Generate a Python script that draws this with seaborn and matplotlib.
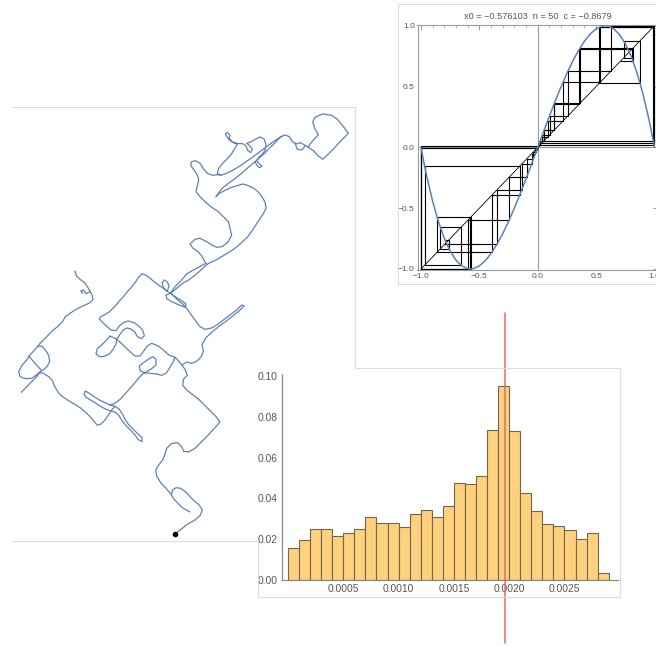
import numpy as np
import pandas as pd
import matplotlib
matplotlib.use("Agg")
import matplotlib.pyplot as plt
from matplotlib.lines import Line2D
from matplotlib.ticker import MultipleLocator, FuncFormatter
import seaborn as sns

sns.set_style("white")
plt.rcParams["font.family"] = ["Liberation Sans", "DejaVu Sans"]

W, H = 656, 646

# ---------------- histogram data ----------------
bin_width = 0.0001
hist_heights = [0.0158, 0.0196, 0.0252, 0.0252, 0.0217, 0.0229, 0.0252, 0.0310,
                0.0281, 0.0281, 0.0261, 0.0325, 0.0345, 0.0310, 0.0364, 0.0477,
                0.0469, 0.0508, 0.0737, 0.0949, 0.0732, 0.0428, 0.0340, 0.0273,
                0.0263, 0.0247, 0.0203, 0.0232, 0.0034]
marker_x = 0.00196
hist_xticks = [0.0005, 0.0010, 0.0015, 0.0020, 0.0025]
hist_yticks = [0.00, 0.02, 0.04, 0.06, 0.08, 0.10]

# ---------------- cobweb data ----------------
cobweb_title = "x0 = \u22120.576103  n = 50  c = \u22120.8679"
x0 = -0.576103
orbit = [x0, -1.0000, -0.0030, -0.0078, -0.0203, -0.0527, -0.1366, -0.3483,
         -0.7951, -0.7598, -0.8344, -0.6586, -0.9688, -0.1546, -0.3921, -0.8621,
         -0.5752, -1.0000, -0.0021, -0.0055, -0.0142, -0.0368, -0.0956, -0.2461,
         -0.6006, -0.9976, 0.0124, 0.0323, 0.0839, 0.2164, 0.5359, 0.9924,
         0.0390, 0.1012, 0.2602, 0.6302, 0.9960, 0.0207, 0.0537, 0.1391,
         0.3544, 0.8051, 0.7359, 0.8764, 0.5280, 0.9893, 0.0547, 0.1417,
         0.3607, 0.8152, 0.7103]
curve_x = [-1.0, -0.975, -0.95, -0.9, -0.85, -0.8, -0.75, -0.7, -0.65, -0.6, -0.575,
           -0.55, -0.5, -0.45, -0.4, -0.35, -0.3, -0.25, -0.2, -0.15, -0.1, -0.05,
           0.0, 0.05, 0.1, 0.15, 0.2, 0.25, 0.3, 0.35, 0.4, 0.45, 0.5, 0.55,
           0.575, 0.6, 0.65, 0.7, 0.75, 0.8, 0.85, 0.9, 0.95, 0.975, 1.0]
curve_y = [0.0, -0.1251, -0.2406, -0.4443, -0.6128, -0.7482, -0.8525, -0.9275,
           -0.9752, -0.9976, -1.0, -0.9967, -0.9743, -0.9324, -0.8729, -0.7979,
           -0.7093, -0.6089, -0.4988, -0.3809, -0.2572, -0.1296,
           0.0, 0.1296, 0.2572, 0.3809, 0.4988, 0.6089, 0.7093, 0.7979, 0.8729,
           0.9324, 0.9743, 0.9967, 1.0, 0.9976, 0.9752, 0.9275, 0.8525, 0.7482,
           0.6128, 0.4443, 0.2406, 0.1251, 0.0]
cobweb_ticks = [-1.0, -0.5, 0.0, 0.5, 1.0]

# ---------------- random walk data (strokes of one path) ----------------
walk_strokes = [
    [(525, 1302), (542, 1289), (560, 1274), (585, 1260), (600, 1247), (607, 1230), (598, 1216),
     (583, 1203), (570, 1190), (556, 1175), (542, 1165), (528, 1163), (518, 1170), (514, 1184),
     (522, 1198), (536, 1212), (548, 1224), (570, 1236)],
    [(514, 1184), (498, 1165), (482, 1148), (470, 1128), (467, 1110), (476, 1095), (488, 1080),
     (495, 1062), (500, 1045), (514, 1031), (532, 1028), (545, 1040), (551, 1054), (566, 1056),
     (586, 1044), (605, 1025), (624, 1006), (642, 986), (660, 966), (648, 950), (630, 932),
     (612, 914), (596, 898), (578, 884), (560, 870), (548, 856), (550, 838), (562, 826),
     (556, 810), (546, 795), (535, 782), (525, 772)],
    [(525, 772), (508, 766), (492, 752), (475, 738), (455, 730), (442, 738), (432, 752),
     (420, 768), (405, 768), (392, 757), (380, 746), (365, 731), (350, 718)],
    [(350, 718), (348, 732), (340, 747), (328, 762), (313, 769), (299, 770), (288, 762),
     (292, 746), (305, 735), (318, 722), (330, 708), (350, 718)],
    [(350, 718), (360, 703), (370, 690), (380, 684), (393, 687), (405, 697), (412, 710),
     (425, 716), (433, 707), (428, 690), (416, 678), (402, 668), (385, 663), (370, 668),
     (358, 678), (348, 692), (333, 690), (318, 677), (305, 665), (298, 657)],
    [(298, 657), (302, 650), (313, 645), (326, 637), (338, 626), (350, 613), (360, 601),
     (372, 588), (382, 575), (394, 562), (405, 548), (415, 533), (426, 521), (440, 527),
     (455, 539), (470, 551), (487, 563), (500, 573), (512, 580)],
    [(500, 573), (490, 562), (486, 548), (493, 540), (502, 546), (507, 558), (503, 570),
     (500, 573)],
    [(512, 580), (498, 585), (500, 596), (515, 605), (535, 614), (556, 622), (558, 612),
     (545, 602), (528, 592), (512, 580)],
    [(512, 580), (530, 597), (548, 612), (560, 625), (572, 642), (585, 660), (600, 680),
     (615, 688), (635, 684), (652, 674), (670, 660), (690, 645), (710, 630), (725, 615),
     (732, 618), (716, 634), (696, 650), (676, 665), (656, 680), (636, 696), (617, 714),
     (606, 734), (610, 754), (604, 770), (590, 784), (575, 790), (560, 786), (546, 795)],
    [(512, 580), (530, 565), (548, 550), (566, 540), (586, 525), (605, 508), (620, 494)],
    [(512, 578), (525, 560), (542, 543), (560, 522), (580, 510), (600, 500), (617, 490)],
    [(620, 494), (612, 480), (604, 466), (594, 455), (578, 444), (570, 432), (585, 418),
     (600, 415), (620, 425), (635, 435), (650, 442), (666, 440), (685, 425), (695, 405),
     (690, 385), (685, 365), (670, 350), (655, 335), (635, 322), (615, 305), (600, 290),
     (588, 275), (592, 258), (596, 240)],
    [(596, 240), (592, 225), (582, 210), (572, 196), (574, 186), (586, 182), (600, 190),
     (610, 206), (622, 220), (638, 226), (652, 224), (662, 226)],
    [(662, 226), (652, 220), (656, 205), (668, 190), (682, 176), (695, 161), (704, 146),
     (712, 132), (698, 126), (687, 116), (690, 106), (682, 97), (676, 102), (686, 118),
     (700, 128), (715, 131), (728, 131), (738, 138), (743, 151), (752, 158), (757, 147),
     (748, 136), (740, 130), (752, 126), (766, 118), (780, 111), (792, 117), (798, 134),
     (795, 152), (786, 163), (775, 173), (770, 183), (778, 192), (786, 199), (778, 203),
     (770, 195), (765, 186)],
    [(662, 226), (680, 220), (700, 210), (720, 198), (740, 184), (760, 170), (780, 155),
     (800, 140), (820, 125), (840, 112)],
    [(648, 290), (665, 266), (685, 250), (705, 236), (725, 220), (745, 202), (765, 185),
     (785, 168), (805, 148), (825, 128), (845, 108)],
    [(648, 290), (655, 282), (675, 271), (695, 262), (715, 256), (728, 252), (742, 256),
     (757, 263), (772, 273), (785, 289), (795, 306), (798, 325), (790, 341), (780, 356),
     (770, 371), (758, 390), (745, 408), (728, 425), (710, 441), (690, 455), (670, 467),
     (648, 480), (630, 488), (620, 494)],
    [(840, 112), (855, 105), (868, 110), (878, 126), (890, 132), (900, 128), (912, 134),
     (925, 142), (940, 152), (955, 168), (968, 178), (985, 162), (1002, 145), (1020, 125),
     (1045, 100), (1030, 80), (1012, 58), (995, 46), (968, 42), (945, 52), (938, 66),
     (945, 88), (955, 104), (942, 118), (930, 132), (925, 142)],
    [(885, 130), (892, 148), (906, 150), (915, 138)],
    [(525, 772), (518, 788), (508, 805), (498, 820), (485, 826), (470, 822), (452, 820),
     (432, 818), (420, 812), (418, 798), (430, 788), (445, 778), (458, 770), (468, 778),
     (468, 795), (455, 806), (440, 815), (428, 822), (418, 832), (405, 848), (390, 865),
     (375, 882), (360, 898), (345, 910), (330, 915)],
    [(330, 915), (315, 908), (298, 900), (282, 890), (268, 880), (256, 873), (252, 882),
     (258, 892), (272, 900), (288, 910), (303, 920), (318, 928), (333, 933), (347, 937),
     (357, 947), (366, 962), (378, 977), (392, 991), (405, 1005), (415, 1019), (426, 1025),
     (426, 1013), (414, 1002), (400, 988), (386, 974), (375, 958), (368, 943), (358, 928),
     (345, 919), (330, 915)],
    [(345, 919), (335, 930), (325, 945), (315, 960), (303, 972), (292, 976), (283, 965),
     (272, 952), (258, 938), (243, 925), (228, 915), (210, 905), (195, 895), (180, 884),
     (170, 870), (162, 855), (156, 840), (146, 830), (130, 820)],
    [(130, 820), (118, 818), (108, 826), (95, 835), (76, 836), (60, 830), (56, 815),
     (66, 796), (80, 780), (90, 765), (104, 750), (112, 740), (125, 738), (136, 750),
     (146, 766), (149, 785), (141, 800), (130, 810), (120, 815), (110, 830), (95, 845),
     (80, 860), (64, 877)],
    [(86, 768), (100, 784), (114, 800), (125, 812)],
    [(112, 740), (122, 728), (132, 718), (146, 704), (160, 690), (175, 678), (188, 664),
     (196, 650), (210, 640), (225, 630), (240, 622), (256, 615), (270, 608), (279, 598),
     (276, 585), (270, 573), (262, 560), (254, 548), (240, 538), (229, 527), (225, 513)],
    [(270, 575), (258, 581), (250, 570), (242, 573), (248, 580)],
]

BLUE = "#5E81B5"
GRAY_TXT = "#555555"
FRAME = "#dcdcdc"


def fig_rect(left, top, right, bottom):
    return [left / W, 1 - bottom / H, (right - left) / W, (bottom - top) / H]


fig = plt.figure(figsize=(W / 100, H / 100), dpi=100)
fig.patch.set_facecolor("white")

# ---------------- random walk panel ----------------
ax_w = fig.add_axes(fig_rect(12, 107.3, 355.7, 541))
rows = []
for sid, stroke in enumerate(walk_strokes):
    for order, (px, py) in enumerate(stroke):
        rows.append((sid, order, px, py))
walk_df = pd.DataFrame(rows, columns=["stroke", "order", "x", "y"])
sns.lineplot(data=walk_df, x="x", y="y", units="stroke", estimator=None, sort=False,
             color=BLUE, linewidth=0.9, ax=ax_w, legend=False)
start_x, start_y = walk_strokes[0][0]
ax_w.scatter([start_x], [start_y], s=9, color="black", zorder=5)
ax_w.set_xlim(36, 1067)
ax_w.set_ylim(1323, 22)
ax_w.axis("off")

# ---------------- histogram panel ----------------
ax_h = fig.add_axes(fig_rect(282, 374, 618, 580))
edges = [round(i * bin_width, 6) for i in range(len(hist_heights) + 1)]
hist_df = pd.DataFrame({"center": [e + bin_width / 2 for e in edges[:-1]],
                        "height": hist_heights})
sns.histplot(data=hist_df, x="center", weights="height", bins=edges, ax=ax_h,
             color="#FDD17E", edgecolor="#75654C", linewidth=0.8, alpha=1.0)
ax_h.set_xlim(-0.0000543, 0.002984)
ax_h.set_ylim(0, 0.101)
for s in ["top", "right"]:
    ax_h.spines[s].set_visible(False)
for s in ["left", "bottom"]:
    ax_h.spines[s].set_color("#8c8c8c")
    ax_h.spines[s].set_linewidth(0.9)
ax_h.set_xticks(hist_xticks)
ax_h.set_yticks(hist_yticks)
ax_h.xaxis.set_minor_locator(MultipleLocator(0.0001))
ax_h.yaxis.set_minor_locator(MultipleLocator(0.004))
ax_h.xaxis.set_major_formatter(FuncFormatter(lambda v, p: f"{v:.4f}"))
ax_h.yaxis.set_major_formatter(FuncFormatter(lambda v, p: f"{v:.2f}"))
ax_h.tick_params(axis="both", which="major", direction="in", length=4, width=0.8,
                 color="#8c8c8c", labelsize=7.4, labelcolor=GRAY_TXT, pad=3)
ax_h.tick_params(axis="both", which="minor", direction="in", length=2, width=0.6,
                 color="#8c8c8c")
ax_h.set_xlabel("")
ax_h.set_ylabel("")
ax_h.set_facecolor("none")
ax_h.plot([marker_x, marker_x], [0.1309, -0.0309], color="#E06A6A", linewidth=1.1,
          clip_on=False, zorder=6)

# ---------------- cobweb panel ----------------
ax_c = fig.add_axes(fig_rect(417.5, 24.5, 658.0, 270.2))
ax_c.set_xlim(-1.03, 1.03)
ax_c.set_ylim(-1.01, 1.01)
ax_c.axvline(0, color="#9a9a9a", linewidth=0.8, zorder=1)
ax_c.axhline(0, color="#9a9a9a", linewidth=0.8, zorder=1)
ax_c.plot([-1, 1], [-1, 1], color="black", linewidth=0.6, zorder=2)
web_x, web_y = [orbit[0]], [orbit[0]]
for a, b in zip(orbit[:-1], orbit[1:]):
    web_x += [a, b]
    web_y += [b, b]
ax_c.plot(web_x, web_y, color="black", linewidth=0.8, zorder=3)
sns.lineplot(x=curve_x, y=curve_y, sort=False, estimator=None, color=BLUE,
             linewidth=1.1, ax=ax_c, zorder=4)
for s in ax_c.spines.values():
    s.set_color("#9a9a9a")
    s.set_linewidth(0.8)
ax_c.set_xticks(cobweb_ticks)
ax_c.set_yticks(cobweb_ticks)
ax_c.xaxis.set_minor_locator(MultipleLocator(0.1))
ax_c.yaxis.set_minor_locator(MultipleLocator(0.1))
fmt = FuncFormatter(lambda v, p: f"{v:.1f}".replace("-", "\u2212"))
ax_c.xaxis.set_major_formatter(fmt)
ax_c.yaxis.set_major_formatter(fmt)
ax_c.tick_params(axis="both", which="major", direction="in", length=3.5, width=0.7,
                 color="#9a9a9a", labelsize=6.0, labelcolor=GRAY_TXT, pad=2,
                 top=True, right=True)
ax_c.tick_params(axis="both", which="minor", direction="in", length=1.8, width=0.5,
                 color="#9a9a9a", top=True, right=True)
ax_c.set_title(cobweb_title, fontsize=6.6, color=GRAY_TXT, pad=4)

# ---------------- panel borders ----------------
def border(x1, y1, x2, y2):
    fig.add_artist(Line2D([x1 / W, x2 / W], [1 - y1 / H, 1 - y2 / H],
                          color=FRAME, linewidth=0.8))

border(12, 107, 355, 107)
border(355, 107, 355, 368)
border(12, 541, 258, 541)
border(355, 368, 620, 368)
border(620, 368, 620, 597)
border(258, 597, 620, 597)
border(258, 541, 258, 597)
border(398, 4, 656, 4)
border(398, 4, 398, 284)
border(398, 284, 656, 284)

fig.savefig("out.png", dpi=100, facecolor="white")
